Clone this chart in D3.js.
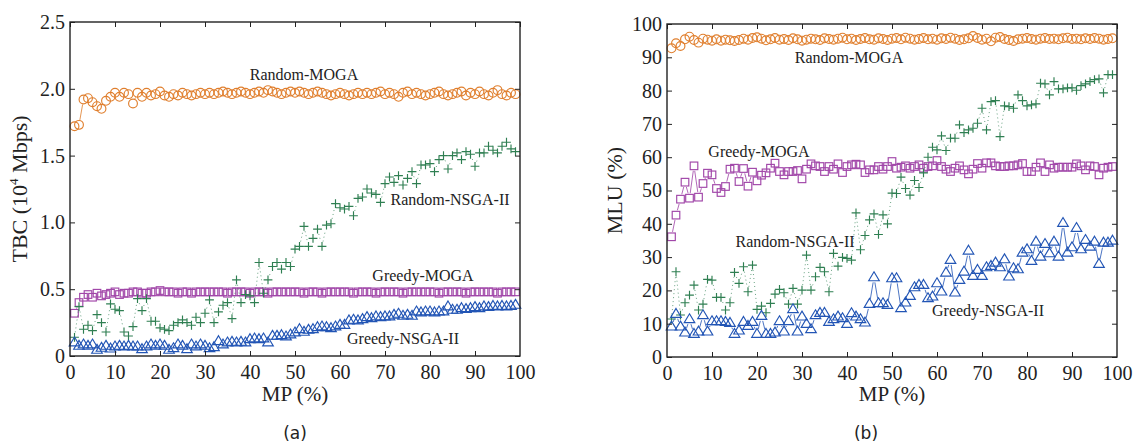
<!DOCTYPE html>
<html>
<head>
<meta charset="utf-8">
<script src="https://cdn.jsdelivr.net/npm/d3@7"></script>
<style>
  body { margin: 0; background: #fff; }
  svg text { font-family: "Liberation Serif", "Times New Roman", serif; fill: #222; }
</style>
</head>
<body>
<div id="chart"></div>
<script>
(function () {

// MP (%) values along the x axis
var mp = d3.range(1, 100)

// (a) TBC, 10^4 Mbps
var tbcRandomMoga = [1.72,1.73,1.92,1.93,1.90,1.87,1.85,1.91,1.94,1.97,
  1.94,1.97,1.96,1.89,1.97,1.94,1.97,1.95,1.96,1.98,
  1.95,1.94,1.96,1.95,1.97,1.96,1.95,1.96,1.97,1.96,
  1.97,1.96,1.97,1.98,1.97,1.96,1.97,1.98,1.97,1.96,
  1.97,1.98,1.97,1.99,1.98,1.97,1.96,1.97,1.98,1.97,
  1.98,1.97,1.96,1.97,1.98,1.97,1.96,1.95,1.96,1.97,
  1.96,1.95,1.96,1.97,1.96,1.97,1.96,1.97,1.98,1.96,
  1.97,1.96,1.94,1.97,1.98,1.96,1.97,1.96,1.95,1.96,
  1.97,1.98,1.96,1.95,1.96,1.97,1.98,1.95,1.97,1.96,
  1.98,1.96,1.95,1.97,1.99,1.96,1.95,1.97,1.96]
var tbcGreedyMoga = [0.32,0.40,0.44,0.46,0.44,0.47,0.45,0.46,0.47,0.48,
  0.46,0.47,0.47,0.48,0.48,0.47,0.47,0.48,0.48,0.49,
  0.48,0.48,0.48,0.47,0.48,0.48,0.47,0.48,0.48,0.48,
  0.48,0.48,0.48,0.48,0.47,0.48,0.48,0.48,0.48,0.47,
  0.48,0.48,0.48,0.47,0.48,0.48,0.48,0.48,0.48,0.48,
  0.48,0.47,0.48,0.48,0.48,0.47,0.48,0.48,0.48,0.48,
  0.48,0.48,0.47,0.48,0.48,0.48,0.48,0.47,0.48,0.48,
  0.48,0.48,0.48,0.47,0.48,0.48,0.48,0.48,0.48,0.48,
  0.48,0.47,0.48,0.48,0.48,0.48,0.48,0.47,0.48,0.48,
  0.48,0.48,0.48,0.48,0.47,0.48,0.48,0.48,0.48]
var tbcRandomNsga = [0.14,0.37,0.20,0.23,0.19,0.31,0.25,0.18,0.39,0.35,
  0.34,0.18,0.15,0.22,0.43,0.34,0.43,0.26,0.26,0.21,
  0.20,0.19,0.23,0.25,0.27,0.25,0.23,0.29,0.25,0.32,
  0.42,0.25,0.33,0.38,0.40,0.28,0.57,0.40,0.46,0.45,
  0.40,0.70,0.47,0.57,0.67,0.70,0.65,0.70,0.67,0.80,
  0.82,0.97,0.82,0.88,0.95,0.82,0.98,0.99,1.14,1.11,
  1.10,1.12,1.05,1.18,1.19,1.25,1.22,1.21,1.15,1.29,
  1.34,1.30,1.35,1.28,1.33,1.38,1.29,1.43,1.43,1.44,
  1.38,1.47,1.50,1.40,1.50,1.52,1.47,1.53,1.51,1.42,
  1.52,1.52,1.57,1.54,1.52,1.57,1.60,1.55,1.53]
var tbcGreedyNsga = [0.10,0.075,0.085,0.075,0.085,0.045,0.06,0.075,0.055,0.07,
  0.075,0.07,0.075,0.07,0.07,0.05,0.07,0.085,0.075,0.085,
  0.075,0.045,0.057,0.085,0.075,0.05,0.085,0.07,0.085,0.075,
  0.057,0.065,0.11,0.085,0.10,0.105,0.10,0.105,0.10,0.125,
  0.13,0.125,0.13,0.10,0.15,0.15,0.155,0.145,0.16,0.175,
  0.20,0.18,0.195,0.20,0.215,0.22,0.215,0.207,0.22,0.232,
  0.232,0.265,0.27,0.265,0.275,0.29,0.282,0.295,0.29,0.295,
  0.295,0.307,0.315,0.30,0.307,0.30,0.332,0.325,0.332,0.332,
  0.325,0.332,0.332,0.37,0.345,0.345,0.357,0.35,0.357,0.365,
  0.357,0.37,0.365,0.374,0.37,0.374,0.37,0.374,0.382]

// (b) MLU, %
var mluRandomMoga = [92.7,94.2,93.4,95.4,96.2,95.2,94.4,95.6,95.3,95.0,
  95.4,95.0,95.3,95.1,94.9,95.2,95.6,95.3,95.8,96.0,
  95.6,95.1,95.4,95.8,95.3,95.5,95.2,95.7,95.4,95.0,
  95.3,95.6,95.4,95.2,95.7,95.5,95.3,95.6,95.9,95.4,
  95.6,95.2,95.5,95.8,95.4,95.3,95.7,95.5,95.2,95.6,
  95.8,95.4,95.9,95.6,95.3,95.5,95.8,95.4,95.6,95.3,
  95.7,95.5,95.9,95.6,95.2,95.4,95.7,96.4,95.8,95.3,
  95.6,94.8,95.9,96.1,95.5,95.2,94.9,95.4,95.6,95.8,
  95.5,95.3,95.6,95.8,95.5,95.6,95.4,95.7,95.9,95.5,
  95.6,95.4,95.7,95.5,95.8,95.6,95.3,95.5,95.7]
var mluGreedyMoga = [36.1,42.6,47.4,52.5,47.7,57.4,48.0,52.1,55.2,54.7,
  50.6,49.4,51.2,56.4,56.7,52.7,56.6,51.3,55.5,52.9,
  54.6,55.3,56.7,58.2,55.7,54.7,55.7,55.7,56.0,53.5,
  56.4,58.0,57.4,57.2,55.7,57.2,56.4,58.0,55.4,57.2,
  57.7,57.9,57.7,55.4,56.2,56.2,57.2,56.4,57.2,58.7,
  56.7,57.0,57.4,56.7,57.2,57.7,56.7,57.2,57.4,59.0,
  57.2,56.4,55.7,56.7,57.4,56.2,55.0,56.4,58.1,56.7,
  58.3,58.3,57.4,57.2,57.2,57.4,57.4,57.7,58.1,55.7,
  55.7,57.0,58.3,55.7,57.7,56.7,57.0,57.0,57.0,57.0,
  58.0,57.4,56.2,57.4,57.2,54.7,56.7,57.0,57.2]
var mluRandomNsga = [11.4,25.6,12.6,16.3,18.6,21.6,14.1,15.9,23.3,23.1,
  17.9,17.9,14.1,16.3,25.4,22.1,27.1,19.6,27.6,14.3,
  15.3,13.3,16.1,18.9,20.3,19.3,15.9,20.6,15.9,20.1,
  30.6,20.1,24.1,26.9,25.6,19.6,31.1,27.3,29.9,29.6,
  29.1,43.3,32.2,36.5,41.2,43.0,36.8,42.7,40.0,49.2,
  49.1,54.0,50.6,48.6,53.0,50.9,55.3,60.0,63.0,62.2,
  66.4,62.0,65.7,65.7,69.7,67.4,68.2,68.7,70.2,74.7,
  68.2,76.7,77.0,66.2,75.4,75.2,74.7,78.7,77.0,75.4,
  75.7,76.0,82.2,82.0,78.7,82.7,80.5,80.5,80.8,80.8,
  80.1,81.5,82.0,82.7,83.3,83.5,79.3,84.8,84.8]
var mluGreedyNsga = [9.1,12.9,9.1,7.3,11.3,6.9,7.6,12.5,7.6,10.7,
  10.7,10.7,10.5,10.2,6.9,7.9,10.5,9.3,10.5,6.9,
  12.3,6.9,6.9,7.3,10.7,7.6,10.7,14.3,7.6,12.1,
  9.9,8.3,12.5,13.2,13.2,10.5,11.3,12.1,11.6,9.9,
  13.1,12.1,11.3,10.3,15.9,23.9,16.1,16.1,15.6,23.6,
  23.6,14.6,16.3,18.3,20.9,21.6,21.6,17.6,18.1,22.1,
  19.6,25.3,29.1,19.3,23.1,25.6,31.9,24.3,26.1,24.3,
  26.9,27.3,28.3,26.9,29.3,24.1,26.6,26.3,31.3,32.3,
  28.8,34.6,30.1,33.9,31.1,34.6,30.1,40.2,31.3,32.9,
  38.7,32.3,35.1,33.1,34.6,27.9,34.3,34.3,34.9]

var xTicks = [0,10,20,30,40,50,60,70,80,90,100]
var tbcTicks = [0,0.5,1.0,1.5,2.0,2.5]
var mluTicks = [0,10,20,30,40,50,60,70,80,90,100]

var colors = { orange: '#e07f2e', purple: '#a045a8', green: '#2f7f52', blue: '#2255b5' }

var serif = '"Liberation Serif", "Times New Roman", serif'

var svg = d3.select('#chart').append('svg')
  .attr('width', 1138)
  .attr('height', 444)

function marker(g, shape, color) {
  if (shape === 'circle') {
    g.append('circle').attr('r', 4.4)
  } else if (shape === 'square') {
    g.append('rect').attr('x', -3.8).attr('y', -3.8).attr('width', 7.6).attr('height', 7.6)
  } else if (shape === 'plus') {
    g.append('path').attr('d', 'M-4.4,0H4.4M0,-4.4V4.4')
  } else {
    g.append('path').attr('d', 'M0,-5.6L5.3,3.3L-5.3,3.3Z')
  }
  g.attr('fill', 'none').attr('stroke', color).attr('stroke-width', 1.15)
}

function drawPanel(p) {
  var x = d3.scaleLinear().domain([0, 100]).range([p.left, p.right])
  var y = d3.scaleLinear().domain(p.yDomain).range([p.bottom, p.top])

  var g = svg.append('g')

  // series: thin connecting segments with a gap around each marker, then markers
  p.series.forEach(function (s) {
    var pts = mp.map(function (m, i) { return [x(m), y(s.values[i])] })
    var gap = 5
    var segs = []
    for (var i = 1; i < pts.length; i++) {
      var dx = pts[i][0] - pts[i - 1][0], dy = pts[i][1] - pts[i - 1][1]
      var len = Math.sqrt(dx * dx + dy * dy)
      if (len > 2 * gap + 1) {
        segs.push([pts[i - 1][0] + dx / len * gap, pts[i - 1][1] + dy / len * gap,
                   pts[i][0] - dx / len * gap, pts[i][1] - dy / len * gap])
      }
    }
    g.selectAll(null).data(segs).enter().append('line')
      .attr('x1', function (d) { return d[0] })
      .attr('y1', function (d) { return d[1] })
      .attr('x2', function (d) { return d[2] })
      .attr('y2', function (d) { return d[3] })
      .attr('stroke', s.color)
      .attr('stroke-width', 0.9)
      .attr('stroke-dasharray', s.dash || null)
      .attr('opacity', s.dash ? 0.8 : 0.9)

    g.selectAll(null).data(pts).enter().append('g')
      .attr('transform', function (d) { return 'translate(' + d[0] + ',' + d[1] + ')' })
      .each(function () { marker(d3.select(this), s.shape, s.color) })
  })

  // axes, ticks pointing inward on all four sides
  var xb = g.append('g').attr('transform', 'translate(0,' + p.bottom + ')')
    .call(d3.axisBottom(x).tickValues(xTicks).tickSize(-5).tickPadding(9))
  var xt = g.append('g').attr('transform', 'translate(0,' + p.top + ')')
    .call(d3.axisTop(x).tickValues(xTicks).tickSize(-5).tickFormat(''))
  var yl = g.append('g').attr('transform', 'translate(' + p.left + ',0)')
    .call(d3.axisLeft(y).tickValues(p.yTicks).tickSize(-5).tickPadding(5).tickFormat(p.yFormat))
  var yr = g.append('g').attr('transform', 'translate(' + p.right + ',0)')
    .call(d3.axisRight(y).tickValues(p.yTicks).tickSize(-5).tickFormat(''))
  ;[xb, xt, yl, yr].forEach(function (a) {
    a.attr('font-family', serif).attr('font-size', 20)
    a.select('.domain').remove()
    a.selectAll('.tick line').attr('stroke', '#222').attr('stroke-width', 1)
    a.selectAll('text').attr('fill', '#222')
  })
  xb.selectAll('.tick').filter(function (d) { return d === 0 || d === 100 }).select('line').remove()

  g.append('rect')
    .attr('x', p.left).attr('y', p.top)
    .attr('width', p.right - p.left).attr('height', p.bottom - p.top)
    .attr('fill', 'none').attr('stroke', '#222').attr('stroke-width', 1.4)

  // axis titles
  g.append('text')
    .attr('x', (p.left + p.right) / 2).attr('y', 401)
    .attr('text-anchor', 'middle').attr('font-size', 21)
    .text('MP (%)')

  var yt = g.append('text')
    .attr('transform', 'translate(' + p.yTitleX + ',' + ((p.top + p.bottom) / 2) + ') rotate(-90)')
    .attr('text-anchor', 'middle').attr('font-size', 22)
  p.yTitle(yt)

  g.append('text')
    .attr('x', p.captionX).attr('y', 439)
    .attr('text-anchor', 'middle').attr('font-size', 17)
    .style('font-family', '"DejaVu Sans", sans-serif')
    .text(p.caption)

  // in-plot series labels
  p.labels.forEach(function (l) {
    g.append('text')
      .attr('x', l.x).attr('y', l.y)
      .attr('text-anchor', 'middle').attr('font-size', 16)
      .text(l.text)
  })
}

drawPanel({
  left: 70, right: 520, top: 22, bottom: 356,
  yDomain: [0, 2.5], yTicks: tbcTicks,
  yFormat: function (d) { return d === 0 ? '0' : d.toFixed(1) },
  yTitleX: 27,
  yTitle: function (t) {
    t.append('tspan').text('TBC (10')
    t.append('tspan').attr('font-size', 13).attr('dy', -9).text('4')
    t.append('tspan').attr('dy', 9).text(' Mbps)')
  },
  caption: '(a)', captionX: 295,
  series: [
    { values: tbcRandomMoga, color: colors.orange, shape: 'circle' },
    { values: tbcGreedyMoga, color: colors.purple, shape: 'square' },
    { values: tbcRandomNsga, color: colors.green, shape: 'plus', dash: '1,3' },
    { values: tbcGreedyNsga, color: colors.blue, shape: 'triangle' }
  ],
  labels: [
    { text: 'Random-MOGA', x: 304, y: 80 },
    { text: 'Random-NSGA-II', x: 450, y: 205 },
    { text: 'Greedy-MOGA', x: 423, y: 281 },
    { text: 'Greedy-NSGA-II', x: 403, y: 344 }
  ]
})

drawPanel({
  left: 667, right: 1117, top: 24, bottom: 357,
  yDomain: [0, 100], yTicks: mluTicks,
  yFormat: d3.format('d'),
  yTitleX: 622,
  yTitle: function (t) { t.text('MLU (%)') },
  caption: '(b)', captionX: 866,
  series: [
    { values: mluRandomMoga, color: colors.orange, shape: 'circle' },
    { values: mluGreedyMoga, color: colors.purple, shape: 'square' },
    { values: mluRandomNsga, color: colors.green, shape: 'plus', dash: '1,3' },
    { values: mluGreedyNsga, color: colors.blue, shape: 'triangle' }
  ],
  labels: [
    { text: 'Random-MOGA', x: 849, y: 63 },
    { text: 'Greedy-MOGA', x: 759, y: 157 },
    { text: 'Random-NSGA-II', x: 795, y: 247 },
    { text: 'Greedy-NSGA-II', x: 988, y: 316 }
  ]
})

})()
</script>
</body>
</html>
